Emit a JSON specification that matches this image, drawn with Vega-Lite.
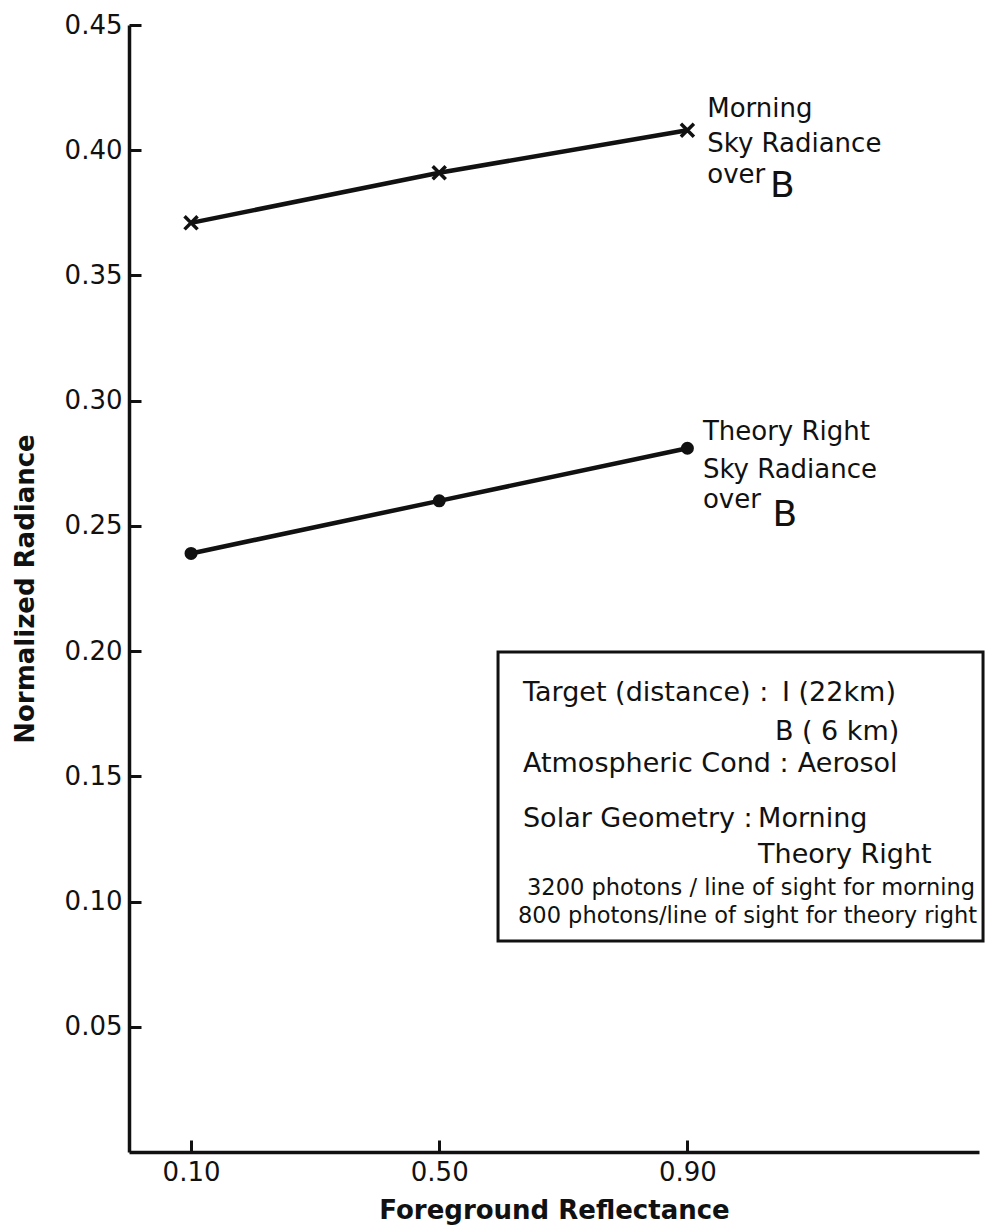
{
  "$schema": "https://vega.github.io/schema/vega-lite/v6.json",
  "width": 850,
  "height": 1127,
  "autosize": "none",
  "padding": {"left": 129, "top": 25, "right": 9, "bottom": 80},
  "background": "white",
  "config": {
    "view": {"stroke": null},
    "font": "DejaVu Sans",
    "axis": {
      "grid": false,
      "domainColor": "#111",
      "tickColor": "#111",
      "labelColor": "#111",
      "titleColor": "#111",
      "domainWidth": 3.5,
      "tickWidth": 3,
      "tickSize": -12,
      "labelPadding": 19,
      "labelFont": "DejaVu Sans",
      "titleFont": "DejaVu Sans",
      "labelFontSize": 26,
      "titleFontSize": 26,
      "titleFontWeight": "bold"
    }
  },
  "datasets": {
    "series": [
      {"series": "Morning", "x": 0.1, "y": 0.371},
      {"series": "Morning", "x": 0.5, "y": 0.391},
      {"series": "Morning", "x": 0.9, "y": 0.408},
      {"series": "Theory Right", "x": 0.1, "y": 0.239},
      {"series": "Theory Right", "x": 0.5, "y": 0.26},
      {"series": "Theory Right", "x": 0.9, "y": 0.281}
    ],
    "seriesLabels": [
      {"text": "Morning", "x": 0.932, "y": 0.4133},
      {"text": "Sky Radiance", "x": 0.932, "y": 0.3993},
      {"text": "over", "x": 0.932, "y": 0.3869},
      {"text": "Theory Right", "x": 0.925, "y": 0.2843},
      {"text": "Sky Radiance", "x": 0.925, "y": 0.2691},
      {"text": "over", "x": 0.925, "y": 0.2571}
    ],
    "bigB": [
      {"text": "B", "x": 1.033, "y": 0.3815},
      {"text": "B", "x": 1.037, "y": 0.2498}
    ],
    "boxText": [
      {"text": "Target (distance) :", "x": 0.635, "y": 0.1801},
      {"text": "I (22km)", "x": 1.0525, "y": 0.1801},
      {"text": "B ( 6 km)", "x": 1.041, "y": 0.1645},
      {"text": "Atmospheric Cond :", "x": 0.635, "y": 0.1517},
      {"text": "Aerosol", "x": 1.078, "y": 0.1517},
      {"text": "Solar Geometry :", "x": 0.635, "y": 0.1298},
      {"text": "Morning", "x": 1.014, "y": 0.1298},
      {"text": "Theory Right", "x": 1.014, "y": 0.1154}
    ],
    "photonText": [
      {"text": "3200 photons / line of sight for morning", "x": 0.6415, "y": 0.1026},
      {"text": "800 photons/line of sight for theory right", "x": 0.627, "y": 0.0914}
    ],
    "box": [
      {"x": 0.5948, "x2": 1.3765, "y": 0.19965, "y2": 0.08425}
    ]
  },
  "encoding": {
    "x": {
      "field": "x",
      "type": "quantitative",
      "scale": {"domain": [0, 1.37], "nice": false, "zero": false},
      "axis": {
        "title": "Foreground Reflectance",
        "values": [0.1, 0.5, 0.9],
        "format": ".2f",
        "titlePadding": 12
      }
    },
    "y": {
      "field": "y",
      "type": "quantitative",
      "scale": {"domain": [0, 0.45], "nice": false, "zero": false},
      "axis": {
        "title": "Normalized Radiance",
        "values": [0.05, 0.1, 0.15, 0.2, 0.25, 0.3, 0.35, 0.4, 0.45],
        "format": ".2f",
        "titlePadding": 26
      }
    }
  },
  "layer": [
    {
      "data": {"name": "series"},
      "mark": {"type": "line", "color": "#111", "strokeWidth": 4.5},
      "encoding": {"detail": {"field": "series", "type": "nominal"}}
    },
    {
      "data": {"name": "series"},
      "transform": [{"filter": "datum.series === 'Morning'"}],
      "mark": {"type": "point", "shape": "M-1,-1L1,1M-1,1L1,-1", "filled": false, "stroke": "#111", "strokeWidth": 3.5, "size": 170, "opacity": 1}
    },
    {
      "data": {"name": "series"},
      "transform": [{"filter": "datum.series === 'Theory Right'"}],
      "mark": {"type": "point", "shape": "circle", "filled": true, "color": "#111", "size": 170, "opacity": 1}
    },
    {
      "data": {"name": "seriesLabels"},
      "mark": {"type": "text", "align": "left", "baseline": "alphabetic", "fontSize": 26, "color": "#111"},
      "encoding": {"text": {"field": "text"}}
    },
    {
      "data": {"name": "bigB"},
      "mark": {"type": "text", "align": "left", "baseline": "alphabetic", "fontSize": 36, "color": "#111"},
      "encoding": {"text": {"field": "text"}}
    },
    {
      "data": {"name": "boxText"},
      "mark": {"type": "text", "align": "left", "baseline": "alphabetic", "fontSize": 27, "color": "#111"},
      "encoding": {"text": {"field": "text"}}
    },
    {
      "data": {"name": "photonText"},
      "mark": {"type": "text", "align": "left", "baseline": "alphabetic", "fontSize": 22.5, "color": "#111"},
      "encoding": {"text": {"field": "text"}}
    },
    {
      "data": {"name": "box"},
      "mark": {"type": "rect", "filled": false, "stroke": "#111", "strokeWidth": 3},
      "encoding": {
        "x2": {"field": "x2"},
        "y2": {"field": "y2"}
      }
    }
  ]
}
